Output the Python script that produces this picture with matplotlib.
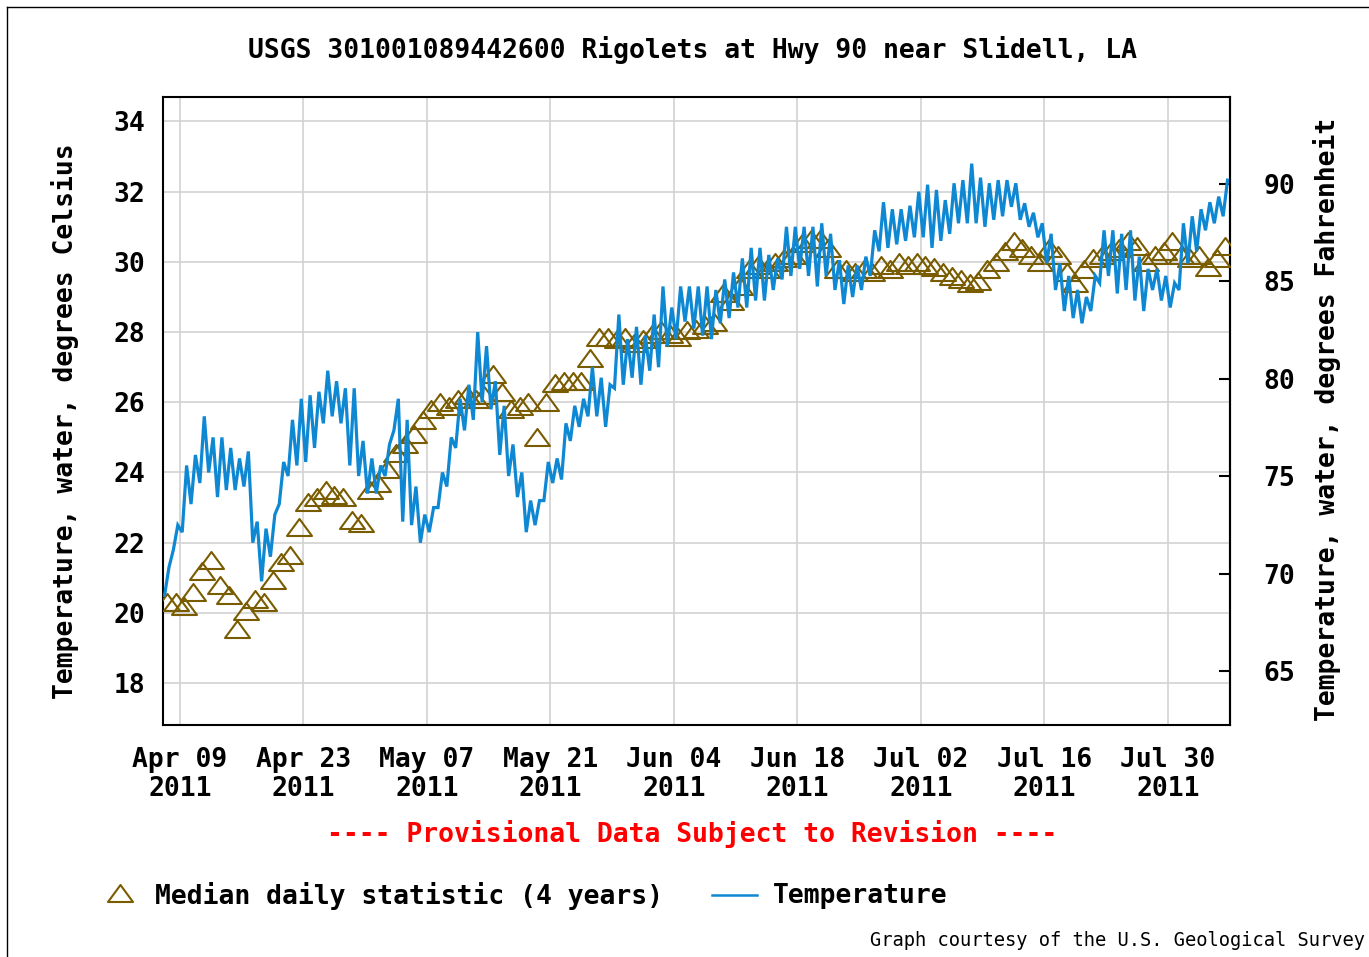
import matplotlib
matplotlib.use("Agg")
import matplotlib.pyplot as plt
import matplotlib.dates as mdates
from matplotlib.lines import Line2D
from matplotlib.path import Path
import datetime as dt

# ---------------- data ----------------
start_date = dt.datetime(2011, 4, 7)   # first day of the record

# daily minimum / maximum water temperature, deg C, Apr 7 .. Aug 5 2011
daily_min_c = [
    20.5, 21.8, 22.3, 23.1, 23.7, 24.0, 23.3, 23.5, 23.5, 23.6,
    22.0, 20.9, 21.6, 23.1, 23.9, 24.2, 24.3, 24.7, 25.4, 25.6,
    25.4, 24.2, 23.9, 23.4, 23.4, 23.9, 25.2, 22.6, 22.5, 22.0,
    22.3, 23.0, 23.6, 24.7, 25.2, 25.5, 26.0, 25.8, 24.5, 23.9,
    23.3, 22.3, 22.5, 23.2, 23.7, 23.8, 24.9, 25.3, 25.6, 25.6,
    25.3, 26.4, 26.5, 26.7, 26.5, 26.9, 27.0, 27.6, 27.8, 28.3,
    28.1, 27.9, 27.8, 28.25, 28.4, 28.7, 28.7, 28.9, 28.9, 29.2,
    29.5, 29.6, 29.8, 29.6, 29.3, 29.6, 29.2, 28.8, 29.0, 29.2,
    29.6, 30.3, 30.4, 30.5, 30.6, 30.7, 30.7, 30.4, 30.6, 30.8,
    31.1, 31.1, 31.1, 31.0, 31.2, 31.3, 31.57, 31.2, 31.0, 30.7,
    29.96, 29.2, 28.6, 28.4, 28.25, 28.6, 29.4, 29.6, 29.1, 29.2,
    28.9, 28.6, 29.2, 28.9, 28.7, 29.2, 29.96, 30.3, 30.9, 31.1,
    31.3,
]
daily_max_c = [
    21.3, 22.5, 24.2, 24.5, 25.6, 25.0, 25.0, 24.7, 24.4, 24.6,
    22.6, 22.4, 22.8, 24.3, 25.5, 26.1, 26.2, 26.3, 26.9, 26.6,
    26.4, 26.4, 24.9, 24.4, 24.2, 24.8, 26.1, 25.5, 23.6, 22.8,
    23.0, 24.0, 25.0, 26.1, 26.5, 28.0, 27.6, 26.6, 25.9, 24.8,
    24.0, 23.2, 23.2, 24.3, 24.4, 25.4, 25.9, 26.1, 27.0, 26.7,
    26.5, 28.5, 27.8, 28.15, 27.9, 28.5, 29.3, 28.7, 29.3, 29.3,
    29.3, 29.3, 29.2, 29.5, 29.7, 30.1, 30.4, 30.4, 30.2, 30.1,
    31.0, 31.0, 31.0, 31.0, 31.1, 30.8, 30.05, 29.9, 29.9, 30.15,
    30.9, 31.7, 31.5, 31.5, 31.6, 32.0, 32.2, 32.05, 31.76, 32.24,
    32.33, 32.8, 32.4, 32.24, 32.33, 32.33, 32.24, 31.67, 31.4, 31.1,
    30.8, 29.96, 29.6, 29.2, 29.0, 29.6, 30.9, 30.9, 30.8, 30.9,
    30.15, 29.8, 29.8, 29.6, 29.4, 31.1, 31.3, 31.5, 31.7, 31.86,
    32.33,
]
# median daily statistic (4 years), deg C, Apr 7 .. Aug 5
median_c = [
    20.3, 20.3, 20.2, 20.6, 21.2, 21.5, 20.8, 20.5, 19.55, 20.05,
    20.4, 20.3, 20.95, 21.45, 21.65, 22.45, 23.15, 23.3, 23.5, 23.35,
    23.3, 22.65, 22.55, 23.5, 23.7, 24.1, 24.55, 24.8, 25.1, 25.5,
    25.8, 26.0, 25.9, 26.1, 26.2, 26.1, 26.2, 26.8, 26.3, 25.8,
    25.9, 26.0, 25.0, 26.0, 26.55, 26.6, 26.6, 26.6, 27.25, 27.85,
    27.85, 27.8, 27.85, 27.7, 27.8, 27.95, 28.05, 27.95, 27.85, 28.05,
    28.1, 28.2, 28.3, 29.1, 28.9, 29.3, 29.8, 29.9, 29.8, 30.0,
    30.1, 30.2, 30.55, 30.65, 30.65, 30.4, 29.8, 29.8, 29.7, 29.8,
    29.7, 29.9, 29.8, 30.0, 29.9, 30.0, 29.9, 29.85, 29.7, 29.6,
    29.5, 29.4, 29.45, 29.8, 30.0, 30.3, 30.6, 30.4, 30.2, 30.0,
    30.4, 30.2, 29.7, 29.4, 29.8, 30.1, 30.2, 30.3, 30.4, 30.6,
    30.45, 30.0, 30.2, 30.3, 30.6, 30.2, 30.1, 30.2, 29.85, 30.1,
    30.45,
]

tick_dates = ["2011-04-09", "2011-04-23", "2011-05-07", "2011-05-21", "2011-06-04",
              "2011-06-18", "2011-07-02", "2011-07-16", "2011-07-30"]
tick_labels = ["Apr 09\n2011", "Apr 23\n2011", "May 07\n2011", "May 21\n2011", "Jun 04\n2011",
               "Jun 18\n2011", "Jul 02\n2011", "Jul 16\n2011", "Jul 30\n2011"]
celsius_ticks = [18, 20, 22, 24, 26, 28, 30, 32, 34]
fahrenheit_ticks = [65, 70, 75, 80, 85, 90]

title = "USGS 301001089442600 Rigolets at Hwy 90 near Slidell, LA"
left_label = "Temperature, water, degrees Celsius"
right_label = "Temperature, water, degrees Fahrenheit"
provisional = "---- Provisional Data Subject to Revision ----"
legend_median = "Median daily statistic (4 years)"
legend_temp = "Temperature"
credit = "Graph courtesy of the U.S. Geological Survey"

# ---------------- build series ----------------
times, temps = [], []
for i, (lo, hi) in enumerate(zip(daily_min_c, daily_max_c)):
    day = start_date + dt.timedelta(days=i)
    times.append(day + dt.timedelta(hours=6)); temps.append(lo)
    times.append(day + dt.timedelta(hours=18)); temps.append(hi)
median_times = [start_date + dt.timedelta(days=i, hours=12) for i in range(len(median_c))]

# ---------------- style ----------------
MONO = "DejaVu Sans Mono"
FS = 19
BLUE = "#0f88d4"
BROWN = "#7a5c00"
GRID = "#d2d2d2"

W, H = 1369, 957
fig = plt.figure(figsize=(W / 100, H / 100), dpi=100)
fig.patch.set_facecolor("white")

ax = fig.add_axes([163 / W, 1 - 725 / H, (1230 - 163) / W, (725 - 97) / H])

tri = Path([(0, 0.68), (-1, -0.68), (1, -0.68), (0, 0.68)],
           [Path.MOVETO, Path.LINETO, Path.LINETO, Path.CLOSEPOLY])

ax.plot(median_times, median_c, linestyle="none", marker=tri, markersize=18,
        markerfacecolor="none", markeredgecolor=BROWN, markeredgewidth=1.5, zorder=3)
ax.plot(times, temps, color=BLUE, linewidth=2.3, zorder=4, solid_joinstyle="miter")

x0 = mdates.date2num(dt.datetime(2011, 4, 9))
ax.set_xlim(x0 - 1.927, x0 + 119.03)
ax.set_ylim(16.806, 34.698)

ax.set_xticks([mdates.date2num(dt.datetime.strptime(d, "%Y-%m-%d")) for d in tick_dates])
ax.set_xticklabels(tick_labels, fontfamily=MONO, fontweight="bold", fontsize=FS,
                   linespacing=1.15)
ax.set_yticks(celsius_ticks)
ax.set_yticklabels([str(v) for v in celsius_ticks], fontfamily=MONO,
                   fontweight="bold", fontsize=FS)
ax.tick_params(axis="x", length=0, pad=16)
ax.tick_params(axis="y", length=0, pad=13)
ax.grid(True, color=GRID, linewidth=1.2)
ax.set_axisbelow(True)
for s in ax.spines.values():
    s.set_linewidth(1.5)
    s.set_color("black")

sec = ax.secondary_yaxis("right", functions=(lambda c: c * 9 / 5 + 32,
                                             lambda f: (f - 32) * 5 / 9))
sec.set_yticks(fahrenheit_ticks)
sec.set_yticklabels([str(v) for v in fahrenheit_ticks], fontfamily=MONO,
                    fontweight="bold", fontsize=FS)
sec.tick_params(axis="y", direction="in", length=8, width=1.5, pad=24)
sec.spines["right"].set_linewidth(1.5)

# ---------------- texts ----------------
fig.text(692 / W, 1 - 50 / H, title, ha="center", va="center",
         fontfamily=MONO, fontweight="bold", fontsize=FS)
fig.text(65 / W, 1 - 421 / H, left_label, rotation=90, ha="center", va="center",
         fontfamily=MONO, fontweight="bold", fontsize=FS)
fig.text(1327 / W, 1 - 419 / H, right_label, rotation=90, ha="center", va="center",
         fontfamily=MONO, fontweight="bold", fontsize=FS)
fig.text(692 / W, 1 - 834 / H, provisional, ha="center", va="center", color="#ff0000",
         fontfamily=MONO, fontweight="bold", fontsize=FS)

# legend row
fig.add_artist(Line2D([120 / W], [1 - 893 / H], linestyle="none", marker=tri, markersize=18,
                      markerfacecolor="none", markeredgecolor=BROWN, markeredgewidth=1.5,
                      transform=fig.transFigure))
fig.text(155 / W, 1 - 896 / H, legend_median, ha="left", va="center",
         fontfamily=MONO, fontweight="bold", fontsize=FS)
fig.add_artist(Line2D([712 / W, 757 / W], [1 - 895 / H, 1 - 895 / H], color=BLUE,
                      linewidth=1.8, transform=fig.transFigure))
fig.text(773 / W, 1 - 896 / H, legend_temp, ha="left", va="center",
         fontfamily=MONO, fontweight="bold", fontsize=FS)
fig.text(1365 / W, 1 - 940 / H, credit, ha="right", va="center",
         fontfamily=MONO, fontsize=13.5)

# outer frame (top and left edges visible)
fig.add_artist(Line2D([7 / W, 7 / W], [0, 1 - 7 / H], color="black", linewidth=1.0,
                      transform=fig.transFigure))
fig.add_artist(Line2D([7 / W, 1], [1 - 7 / H, 1 - 7 / H], color="black", linewidth=1.0,
                      transform=fig.transFigure))

fig.savefig("out.png", dpi=100)
